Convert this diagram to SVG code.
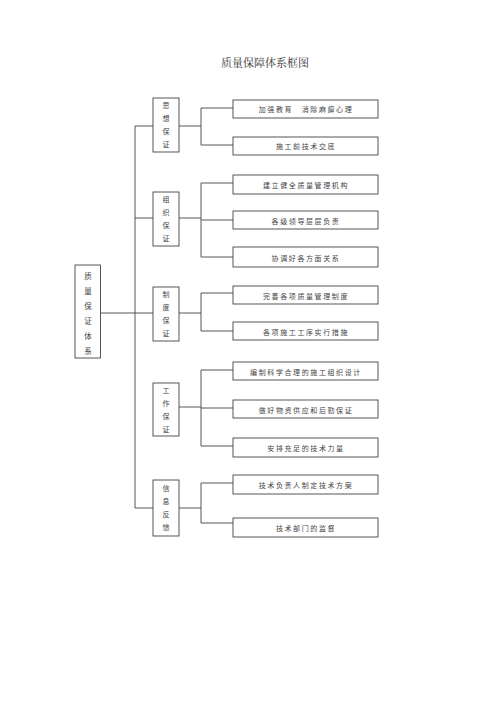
<svg xmlns="http://www.w3.org/2000/svg" width="500" height="708" viewBox="0 0 500 708">
<style>
.b{fill:#fff;stroke:#444;stroke-width:0.9}
.l{fill:none;stroke:#444;stroke-width:0.9}
.t{font-family:"Noto Sans CJK SC","Noto Sans CJK TC",sans-serif;fill:#444;text-anchor:middle}
.s{font-size:7px}
.w{letter-spacing:1.6px}
.v{font-size:7.5px}
.h{font-size:11px;font-family:"Noto Serif CJK SC","Noto Sans CJK SC",serif;fill:#333;text-anchor:middle}
</style>
<rect width="500" height="708" fill="#fff"/>
<text class="h" x="265" y="67">质量保障体系框图</text>
<g id="connectors">
<path class="l" d="M100,313H135M135,126V508"/>
<path class="l" d="M135,126H153M179,126H201M201,108V145M201,108H233M201,145H233"/>
<path class="l" d="M135,218H153M179,218H201M201,183V257M201,183H233M201,220H233M201,257H233"/>
<path class="l" d="M135,313H153M179,313H201M201,293V331M201,293H233M201,331H233"/>
<path class="l" d="M179,407H201M201,370V446M201,370H233M201,408H233M201,446H233"/>
<path class="l" d="M135,508H153M179,508H201M201,483V523M201,483H233M201,523H233"/>
</g>
<g id="root">
<rect class="b" x="75" y="265" width="25.5" height="93"/>
<text class="t v" x="88" y="279">质</text>
<text class="t v" x="88" y="294">量</text>
<text class="t v" x="88" y="309">保</text>
<text class="t v" x="88" y="324">证</text>
<text class="t v" x="88" y="339">体</text>
<text class="t v" x="88" y="354">系</text>
</g>
<g id="m1">
<rect class="b" x="153" y="98" width="26" height="54"/>
<text class="t s" x="166" y="108">思</text>
<text class="t s" x="166" y="121">想</text>
<text class="t s" x="166" y="134">保</text>
<text class="t s" x="166" y="147">证</text>
</g>
<g id="m2">
<rect class="b" x="153" y="192" width="26" height="54"/>
<text class="t s" x="166" y="202">组</text>
<text class="t s" x="166" y="215">织</text>
<text class="t s" x="166" y="228">保</text>
<text class="t s" x="166" y="241">证</text>
</g>
<g id="m3">
<rect class="b" x="153" y="287" width="26" height="54"/>
<text class="t s" x="166" y="297">制</text>
<text class="t s" x="166" y="310">度</text>
<text class="t s" x="166" y="323">保</text>
<text class="t s" x="166" y="336">证</text>
</g>
<g id="m4">
<rect class="b" x="153" y="383" width="26" height="53"/>
<text class="t s" x="166" y="393">工</text>
<text class="t s" x="166" y="406">作</text>
<text class="t s" x="166" y="419">保</text>
<text class="t s" x="166" y="432">证</text>
</g>
<g id="m5">
<rect class="b" x="153" y="480" width="26" height="56"/>
<text class="t s" x="166" y="491">信</text>
<text class="t s" x="166" y="504">息</text>
<text class="t s" x="166" y="517">反</text>
<text class="t s" x="166" y="530">馈</text>
</g>
<g id="r1a"><rect class="b" x="233" y="100" width="145" height="18"/><text class="t s w" x="306" y="112">加强教育　消除麻痹心理</text></g>
<g id="r1b"><rect class="b" x="233" y="137" width="145" height="18"/><text class="t s w" x="306" y="149">施工前技术交底</text></g>
<g id="r2a"><rect class="b" x="233" y="175" width="145" height="19"/><text class="t s w" x="306" y="188">建立健全质量管理机构</text></g>
<g id="r2b"><rect class="b" x="233" y="211" width="145" height="18"/><text class="t s w" x="306" y="224">各级领导层层负责</text></g>
<g id="r2c"><rect class="b" x="233" y="247" width="145" height="20"/><text class="t s w" x="306" y="261">协调好各方面关系</text></g>
<g id="r3a"><rect class="b" x="233" y="286" width="145" height="18"/><text class="t s w" x="306" y="299">完善各项质量管理制度</text></g>
<g id="r3b"><rect class="b" x="233" y="322" width="145" height="18"/><text class="t s w" x="306" y="335">各项施工工序实行措施</text></g>
<g id="r4a"><rect class="b" x="233" y="362" width="145" height="18"/><text class="t s w" x="306" y="375">编制科学合理的施工组织设计</text></g>
<g id="r4b"><rect class="b" x="233" y="400" width="145" height="18"/><text class="t s w" x="306" y="413">做好物资供应和后勤保证</text></g>
<g id="r4c"><rect class="b" x="233" y="438" width="145" height="19"/><text class="t s w" x="306" y="451">安排充足的技术力量</text></g>
<g id="r5a"><rect class="b" x="233" y="475" width="145" height="19"/><text class="t s w" x="306" y="488">技术负责人制定技术方案</text></g>
<g id="r5b"><rect class="b" x="233" y="518" width="145" height="19"/><text class="t s w" x="306" y="531">技术部门的监督</text></g>
</svg>
